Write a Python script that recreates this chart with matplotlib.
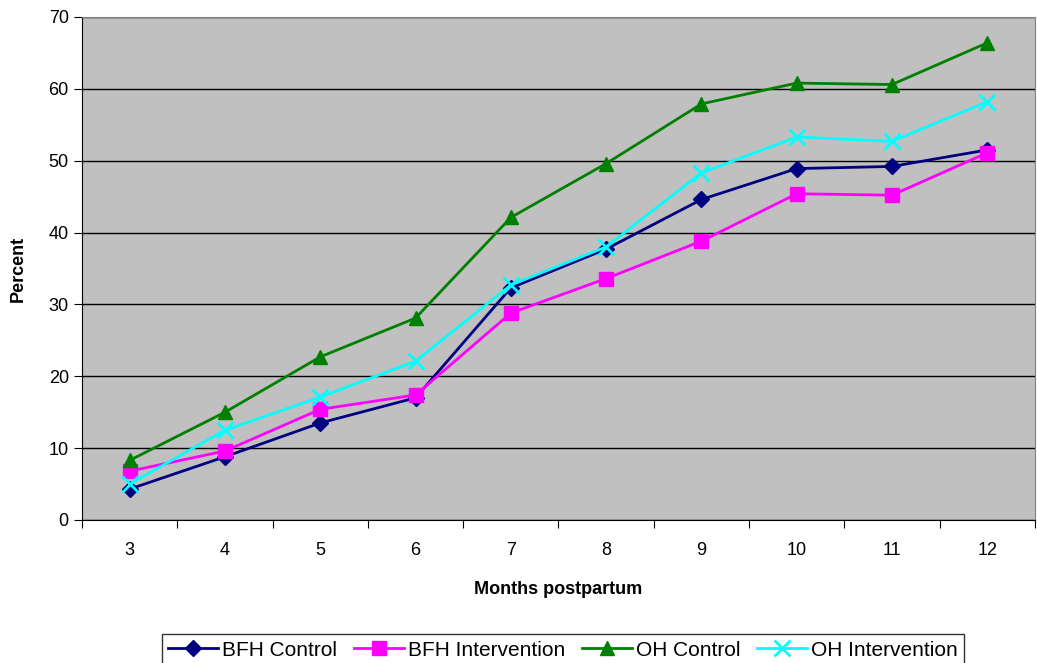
import numpy as np
import matplotlib
matplotlib.use('Agg')
from matplotlib import pyplot as plt

plt.rcParams['font.family'] = ['Liberation Sans', 'DejaVu Sans']

months = [3, 4, 5, 6, 7, 8, 9, 10, 11, 12]
bfh_control = [4.3, 8.8, 13.5, 17.0, 32.3, 37.7, 44.6, 48.9, 49.2, 51.5]
bfh_intervention = [6.8, 9.6, 15.4, 17.4, 28.8, 33.6, 38.8, 45.4, 45.2, 51.1]
oh_control = [8.3, 15.0, 22.7, 28.1, 42.1, 49.6, 57.9, 60.8, 60.6, 66.4]
oh_intervention = [5.0, 12.5, 17.1, 22.1, 32.7, 38.0, 48.3, 53.3, 52.7, 58.2]

fig = plt.figure(figsize=(10.37, 6.63), dpi=100)
ax = fig.add_axes([0.0791, 0.2157, 0.9189, 0.7587])
ax.set_facecolor('#C0C0C0')

ax.plot(months, bfh_control, color='#000080', marker='D', markersize=8, lw=2,
        label='BFH Control', zorder=3)
ax.plot(months, bfh_intervention, color='#FF00FF', marker='s', markersize=10, lw=2,
        label='BFH Intervention', zorder=3)
ax.plot(months, oh_control, color='#008000', marker='^', markersize=10, lw=2,
        label='OH Control', zorder=3)
ax.plot(months, oh_intervention, color='#00FFFF', marker='x', markersize=11, mew=2, lw=2,
        label='OH Intervention', zorder=3)

ax.set_ylim(0, 70)
ax.set_yticks(np.arange(0, 71, 10))
ax.set_xlim(2.5, 12.5)
ax.set_xticks(np.arange(2.5, 12.6, 1))
ax.set_xticklabels([])
ax.set_xticks(months, minor=True)
ax.set_xticklabels([str(m) for m in months], minor=True)
ax.tick_params(axis='x', which='minor', length=0, labelsize=13, pad=16)
ax.tick_params(axis='x', which='major', length=6, direction='out')
ax.tick_params(axis='y', length=6, direction='out', labelsize=13)
ax.yaxis.grid(True, color='black', lw=1)
ax.set_axisbelow(True)
for s in ['top', 'right']:
    ax.spines[s].set_color('#808080')
ax.spines['left'].set_color('black')
ax.spines['bottom'].set_color('black')

ax.set_xlabel('Months postpartum', fontsize=13, fontweight='bold', labelpad=16)
ax.set_ylabel('Percent', fontsize=13, fontweight='bold', labelpad=16)

leg = fig.legend(loc='lower center', bbox_to_anchor=(0.543, -0.02), ncol=4,
                 fontsize=15, frameon=True, fancybox=False, edgecolor='black',
                 handlelength=2.4, columnspacing=0.8, handletextpad=0.2,
                 borderpad=0.3)
leg.get_frame().set_linewidth(1)

fig.savefig('out.png', dpi=100)
